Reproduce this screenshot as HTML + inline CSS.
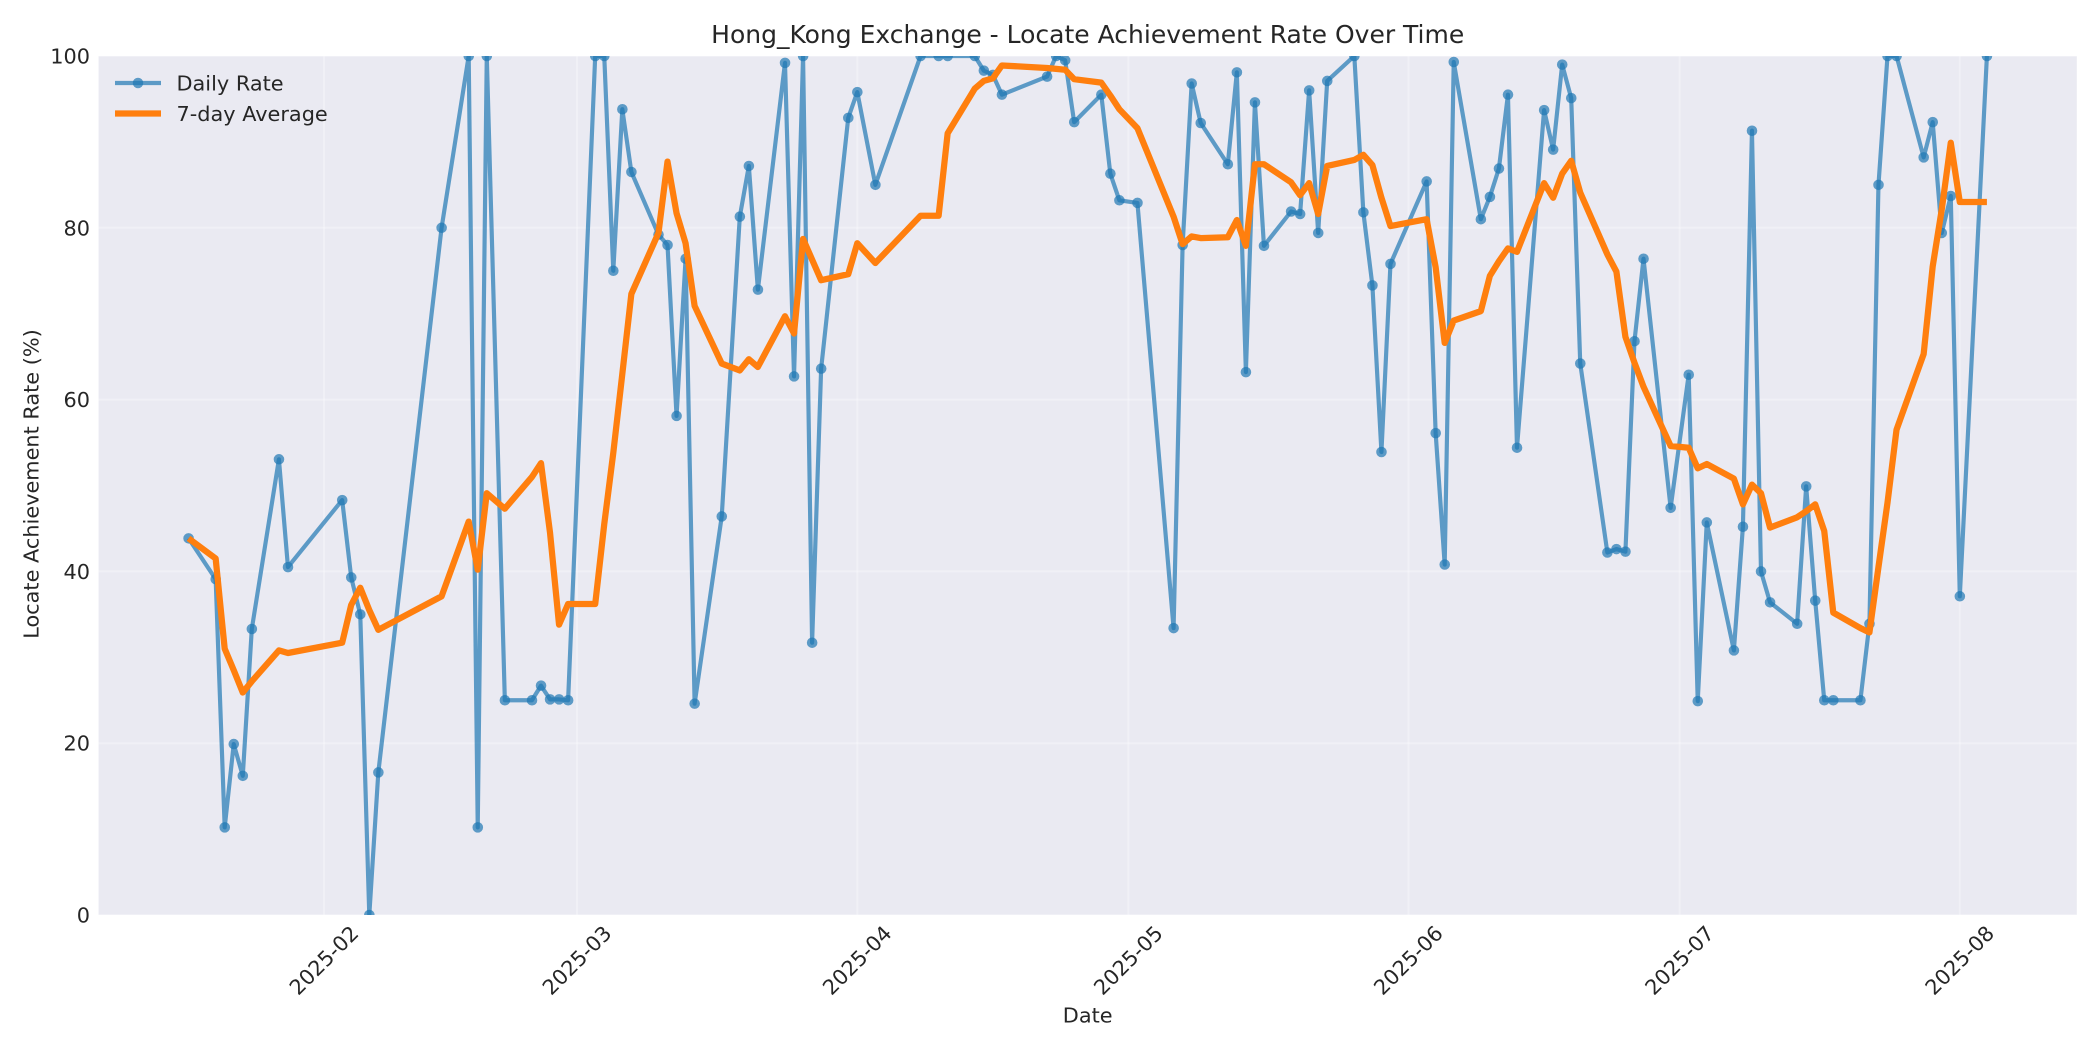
<!DOCTYPE html>
<html>
<head>
<meta charset="utf-8">
<style>
html,body{margin:0;padding:0;background:#fff;}
svg{display:block;}
</style>
</head>
<body>
<svg width="2100" height="1050" xmlns="http://www.w3.org/2000/svg" font-family="'DejaVu Sans','Liberation Sans',sans-serif" fill="#262626">
<rect width="2100" height="1050" fill="#ffffff"/>
<defs>
<clipPath id="c"><rect x="98.6" y="56" width="1978.2" height="859"/></clipPath>
</defs>
<rect x="98.6" y="56" width="1978.2" height="859" fill="#EAEAF2"/>
<g stroke="#ffffff" stroke-opacity="0.3" stroke-width="2">
<line x1="98.6" x2="2076.8" y1="915" y2="915"/>
<line x1="98.6" x2="2076.8" y1="743.2" y2="743.2"/>
<line x1="98.6" x2="2076.8" y1="571.4" y2="571.4"/>
<line x1="98.6" x2="2076.8" y1="399.6" y2="399.6"/>
<line x1="98.6" x2="2076.8" y1="227.8" y2="227.8"/>
<line x1="98.6" x2="2076.8" y1="56" y2="56"/>
<line x1="324.1" x2="324.1" y1="56" y2="915"/>
<line x1="577.1" x2="577.1" y1="56" y2="915"/>
<line x1="857.3" x2="857.3" y1="56" y2="915"/>
<line x1="1128.4" x2="1128.4" y1="56" y2="915"/>
<line x1="1408.5" x2="1408.5" y1="56" y2="915"/>
<line x1="1679.7" x2="1679.7" y1="56" y2="915"/>
<line x1="1959.8" x2="1959.8" y1="56" y2="915"/>
</g>
<g clip-path="url(#c)">
<g transform="translate(324.1 915) scale(9.037 -8.59)">
<polyline fill="none" stroke="#1f77b4" stroke-opacity="0.7" stroke-width="4.17" stroke-linejoin="round" vector-effect="non-scaling-stroke" points="-15,43.85 -12,39.1 -11,10.2 -10,19.9 -9,16.2 -8,33.3 -5,53.05 -4,40.5 2,48.3 3,39.3 4,35 5,0 6,16.6 13,80 16,100 17,10.2 18,100 20,25 23,25 24,26.7 25,25.1 26,25.1 27,25 30,100 31,100 32,75 33,93.8 34,86.5 37,79.2 38,78 39,58.1 40,76.4 41,24.6 44,46.4 46,81.3 47,87.2 48,72.8 51,99.2 52,62.7 53,100 54,31.7 55,63.6 58,92.8 59,95.8 61,85 66,100 68,100 69,100 72,100 73,98.3 74,97.8 75,95.5 80,97.6 81,100 82,99.5 83,92.3 86,95.5 87,86.3 88,83.2 90,82.9 94,33.4 95,78 96,96.8 97,92.2 100,87.4 101,98.1 102,63.2 103,94.6 104,77.9 107,81.9 108,81.6 109,96 110,79.4 111,97.1 114,100 115,81.8 116,73.3 117,53.9 118,75.8 122,85.4 123,56.1 124,40.8 125,99.3 128,81 129,83.6 130,86.9 131,95.5 132,54.4 135,93.7 136,89.1 137,99 138,95.1 139,64.2 142,42.2 143,42.6 144,42.3 145,66.8 146,76.4 149,47.4 151,62.9 152,24.9 153,45.7 156,30.8 157,45.2 158,91.3 159,40 160,36.4 163,33.9 164,49.9 165,36.6 166,25 167,25 170,25 171,33.9 172,85 173,100 174,100 177,88.2 178,92.3 179,79.4 180,83.7 181,37.1 184,100"/>
<path fill="none" stroke="#1f77b4" stroke-opacity="0.7" stroke-width="10.5" stroke-linecap="round" vector-effect="non-scaling-stroke" d="M-15 43.85h.01M-12 39.1h.01M-11 10.2h.01M-10 19.9h.01M-9 16.2h.01M-8 33.3h.01M-5 53.05h.01M-4 40.5h.01M2 48.3h.01M3 39.3h.01M4 35h.01M5 0h.01M6 16.6h.01M13 80h.01M16 100h.01M17 10.2h.01M18 100h.01M20 25h.01M23 25h.01M24 26.7h.01M25 25.1h.01M26 25.1h.01M27 25h.01M30 100h.01M31 100h.01M32 75h.01M33 93.8h.01M34 86.5h.01M37 79.2h.01M38 78h.01M39 58.1h.01M40 76.4h.01M41 24.6h.01M44 46.4h.01M46 81.3h.01M47 87.2h.01M48 72.8h.01M51 99.2h.01M52 62.7h.01M53 100h.01M54 31.7h.01M55 63.6h.01M58 92.8h.01M59 95.8h.01M61 85h.01M66 100h.01M68 100h.01M69 100h.01M72 100h.01M73 98.3h.01M74 97.8h.01M75 95.5h.01M80 97.6h.01M81 100h.01M82 99.5h.01M83 92.3h.01M86 95.5h.01M87 86.3h.01M88 83.2h.01M90 82.9h.01M94 33.4h.01M95 78h.01M96 96.8h.01M97 92.2h.01M100 87.4h.01M101 98.1h.01M102 63.2h.01M103 94.6h.01M104 77.9h.01M107 81.9h.01M108 81.6h.01M109 96h.01M110 79.4h.01M111 97.1h.01M114 100h.01M115 81.8h.01M116 73.3h.01M117 53.9h.01M118 75.8h.01M122 85.4h.01M123 56.1h.01M124 40.8h.01M125 99.3h.01M128 81h.01M129 83.6h.01M130 86.9h.01M131 95.5h.01M132 54.4h.01M135 93.7h.01M136 89.1h.01M137 99h.01M138 95.1h.01M139 64.2h.01M142 42.2h.01M143 42.6h.01M144 42.3h.01M145 66.8h.01M146 76.4h.01M149 47.4h.01M151 62.9h.01M152 24.9h.01M153 45.7h.01M156 30.8h.01M157 45.2h.01M158 91.3h.01M159 40h.01M160 36.4h.01M163 33.9h.01M164 49.9h.01M165 36.6h.01M166 25h.01M167 25h.01M170 25h.01M171 33.9h.01M172 85h.01M173 100h.01M174 100h.01M177 88.2h.01M178 92.3h.01M179 79.4h.01M180 83.7h.01M181 37.1h.01M184 100h.01"/>
<polyline fill="none" stroke="#ff7f0e" stroke-width="6.25" stroke-linejoin="round" vector-effect="non-scaling-stroke" points="-15,43.85 -12,41.5 -11,31 -10,28.5 -9,25.9 -8,27.2 -5,30.8 -4,30.5 2,31.7 3,36.1 4,38.1 5,35.5 6,33.2 13,37.1 16,45.8 17,40.2 18,49.1 20,47.3 23,51 24,52.6 25,44.5 26,33.8 27,36.2 30,36.2 31,45.5 32,53.8 33,63 34,72.3 37,79.4 38,87.7 39,81.7 40,78.2 41,70.9 44,64.2 46,63.4 47,64.7 48,63.8 51,69.7 52,67.7 53,78.7 54,76.3 55,73.9 58,74.6 59,78.2 61,75.9 66,81.4 68,81.4 69,91 72,96.2 73,97.1 74,97.4 75,98.9 80,98.6 81,98.5 82,98.4 83,97.3 86,96.9 87,95.4 88,93.8 90,91.6 94,81.3 95,78.1 96,79 97,78.8 100,78.9 101,80.9 102,77.9 103,87.4 104,87.4 107,85.3 108,83.8 109,85.2 110,81.6 111,87.2 114,87.9 115,88.5 116,87.3 117,83.5 118,80.2 122,81 123,75.4 124,66.6 125,69.2 128,70.3 129,74.4 130,76.1 131,77.6 132,77.2 135,85.2 136,83.5 137,86.3 138,87.8 139,84.1 142,76.9 143,74.9 144,67.3 145,64.3 146,61.5 149,54.6 151,54.4 152,52 153,52.5 156,50.8 157,47.8 158,50.1 159,49.1 160,45.1 163,46.3 164,47 165,47.8 166,44.7 167,35.2 170,33.4 171,32.9 172,40.5 173,48 174,56.5 177,65.3 178,75.5 179,82.1 180,89.9 181,83 184,83"/>
</g>
</g>
<!-- Title -->
<text x="1087.7" y="43" font-size="25" text-anchor="middle">Hong_Kong Exchange - Locate Achievement Rate Over Time</text>
<!-- Y tick labels -->
<g font-size="20.83" text-anchor="end">
<text x="90" y="922.5">0</text>
<text x="90" y="750.7">20</text>
<text x="90" y="578.9">40</text>
<text x="90" y="407.1">60</text>
<text x="90" y="235.3">80</text>
<text x="90" y="63.5">100</text>
</g>
<!-- X tick labels -->
<g font-size="20.83" text-anchor="middle" dominant-baseline="central">
<text x="324.1" y="960.5" transform="rotate(-45 324.1 960.5)">2025-02</text>
<text x="577.1" y="960.5" transform="rotate(-45 577.1 960.5)">2025-03</text>
<text x="857.3" y="960.5" transform="rotate(-45 857.3 960.5)">2025-04</text>
<text x="1128.4" y="960.5" transform="rotate(-45 1128.4 960.5)">2025-05</text>
<text x="1408.5" y="960.5" transform="rotate(-45 1408.5 960.5)">2025-06</text>
<text x="1679.7" y="960.5" transform="rotate(-45 1679.7 960.5)">2025-07</text>
<text x="1959.8" y="960.5" transform="rotate(-45 1959.8 960.5)">2025-08</text>
</g>
<!-- Axis labels -->
<text x="1087.7" y="1022.3" font-size="20.83" text-anchor="middle">Date</text>
<text x="31.5" y="484" font-size="20.83" text-anchor="middle" dominant-baseline="central" transform="rotate(-90 31.5 484)">Locate Achievement Rate (%)</text>
<!-- Legend -->
<line x1="115" y1="83" x2="161" y2="83" stroke="#1f77b4" stroke-opacity="0.7" stroke-width="4.17"/>
<circle cx="138" cy="83" r="5.25" fill="#1f77b4" fill-opacity="0.7"/>
<text x="176.5" y="90.5" font-size="20.83">Daily Rate</text>
<line x1="115" y1="113.5" x2="161" y2="113.5" stroke="#ff7f0e" stroke-width="6.25"/>
<text x="176.5" y="121" font-size="20.83">7-day Average</text>
</svg>
</body>
</html>
